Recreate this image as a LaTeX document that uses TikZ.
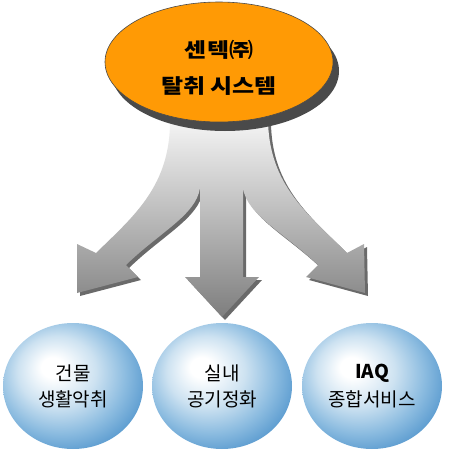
\documentclass[tikz,border=0pt]{standalone}
\usepackage{fontspec}
\newfontfamily\kr{Noto Sans CJK KR}
\newfontfamily\krw[FakeStretch=1.2]{Noto Sans CJK KR}
\usetikzlibrary{shapes.geometric}
\definecolor{orangefill}{HTML}{FF9A05}
\definecolor{shadowgray}{HTML}{4A4A4A}
\definecolor{arrowtop}{HTML}{F6F6F6}
\definecolor{arrowbot}{HTML}{7E7E7E}
\definecolor{arrowshadow}{HTML}{6A6A6A}
\pgfdeclareradialshading{bluecirc}{\pgfpoint{-8bp}{8bp}}{%
  color(0bp)=(white);
  color(4bp)=(white);
  color(14bp)=({rgb,255:red,205;green,226;blue,241});
  color(23bp)=({rgb,255:red,140;green,188;blue,224});
  color(30bp)=({rgb,255:red,92;green,156;blue,208});
  color(37bp)=({rgb,255:red,60;green,133;blue,194});
  color(50bp)=({rgb,255:red,60;green,133;blue,194})}
\tikzset{
  topoval/.style={ellipse, minimum width=228pt, minimum height=120pt, fill=orangefill, draw=shadowgray, line width=0.6pt, inner sep=0pt},
  topshadow/.style={ellipse, minimum width=228pt, minimum height=120pt, fill=shadowgray, inner sep=0pt},
  bubble/.style={ellipse, minimum width=140pt, minimum height=126pt, shading=bluecirc, inner sep=0pt},
  toptext/.style={font=\krw\bfseries\fontsize{20}{24}\selectfont, text=black},
  bubbletext/.style={font=\kr\fontsize{19}{22}\selectfont, text=black},
}
\begin{document}
\begin{tikzpicture}[x=1pt,y=-1pt]
\useasboundingbox (0,0) rectangle (448,450);
% arrows: shadow then body
\def\arrowpath{(170,118) .. controls (171,185) and (135,215) .. (96,253)
  -- (77,244) -- (77,293) -- (138,277) -- (126,265)
  .. controls (160,232) and (196,215) .. (200,188)
  -- (200,277) -- (185,277) -- (222,317) -- (259,277) -- (243,277) -- (243,188)
  .. controls (247,215) and (283,232) .. (318,265)
  -- (306,277) -- (365,293) -- (364,244) -- (347,253)
  .. controls (309,215) and (268,185) .. (268,118) -- cycle}
\fill[arrowshadow, shift={(3,3)}] \arrowpath;
\shade[top color=arrowtop, bottom color=arrowbot] \arrowpath;
% top oval
\node[topshadow] (topsh) at (225,71) {};
\node[topoval] (top) at (219,62) {};
\node[toptext] (t1) at (219,50) {센텍㈜};
\node[toptext] (t2) at (219,86) {탈취 시스템};
% bottom bubbles
\node[bubble] (b1) at (73,386) {};
\node[bubble] (b2) at (222,386) {};
\node[bubble] (b3) at (372,386) {};
\node[bubbletext] (l1a) at (73,373) {건물};
\node[bubbletext] (l1b) at (73,399) {생활악취};
\node[bubbletext] (l2a) at (222,373) {실내};
\node[bubbletext] (l2b) at (222,399) {공기정화};
\node[bubbletext, font=\kr\bfseries\fontsize{19}{22}\selectfont] (l3a) at (372,373) {IAQ};
\node[bubbletext] (l3b) at (372,399) {종합서비스};
\end{tikzpicture}
\end{document}
